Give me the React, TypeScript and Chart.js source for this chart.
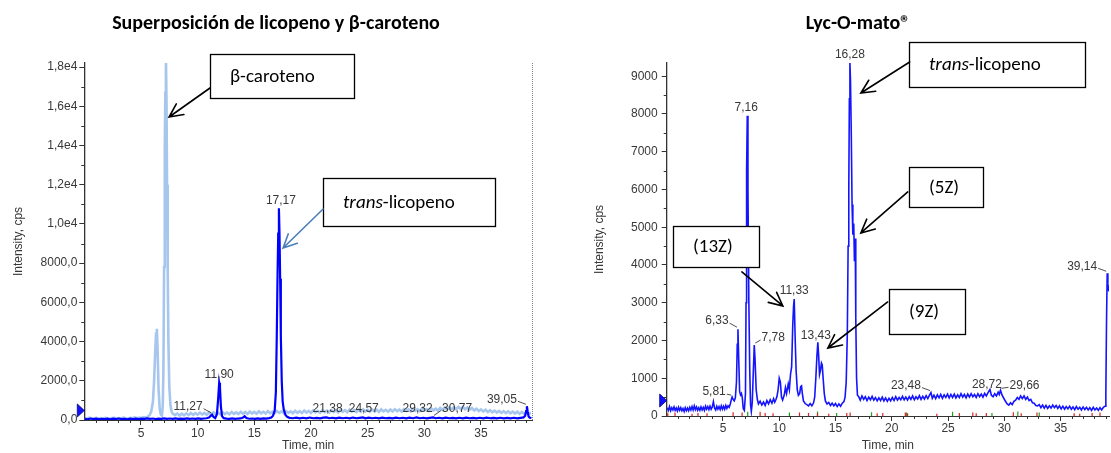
import { useEffect, useRef } from 'react';
import { Chart, registerables } from 'chart.js';

Chart.register(...registerables);
Chart.defaults.font.family = '"Liberation Sans", Arial, sans-serif';

// ---- Data: retention time (min), intensity (cps) ----

// β-caroteno standard (light trace, left panel)
const BETA_CAROTENE: [number, number][] = [
  [0.05, 95], [0.25, 70], [0.45, 115], [0.65, 80], [0.85, 60], [1.05, 105], [1.25, 75], [1.45, 100], [1.65, 65], [1.85, 110],
  [2.05, 80], [2.25, 60], [2.45, 95], [2.65, 115], [2.85, 70], [3.05, 100], [3.25, 80], [3.45, 125], [3.65, 90], [3.85, 70],
  [4.05, 115], [4.25, 85], [4.45, 130], [4.65, 95], [4.85, 125], [5.05, 100], [5.25, 145], [5.45, 120], [5.6, 170], [5.75, 240],
  [5.9, 420], [6.05, 900], [6.15, 1900], [6.25, 3400], [6.33, 4400], [6.4, 4650], [6.47, 3500], [6.55, 1600], [6.65, 600], [6.75, 280],
  [6.85, 230], [6.92, 700], [6.98, 2500], [7.04, 7800], [7.1, 13800], [7.15, 16700], [7.2, 18600], [7.25, 16400], [7.3, 12000], [7.36, 7600],
  [7.42, 4000], [7.5, 1700], [7.6, 750], [7.7, 430], [7.8, 330], [8.0, 250], [8.2, 330], [8.4, 230], [8.6, 320], [8.8, 240],
  [9.0, 340], [9.2, 250], [9.4, 360], [9.6, 260], [9.8, 350], [10.0, 270], [10.2, 370], [10.4, 280], [10.6, 360], [10.8, 270],
  [11.0, 380], [11.2, 290], [11.4, 390], [11.6, 280], [11.8, 370], [12.0, 290], [12.2, 400], [12.4, 300], [12.6, 380], [12.8, 290],
  [13.0, 410], [13.2, 310], [13.4, 390], [13.6, 300], [13.8, 420], [14.0, 320], [14.2, 410], [14.4, 310], [14.6, 430], [14.8, 330],
  [15.0, 410], [15.2, 320], [15.4, 440], [15.6, 340], [15.8, 420], [16.0, 330], [16.2, 450], [16.4, 340], [16.6, 430], [16.8, 350],
  [17.0, 460], [17.2, 360], [17.4, 440], [17.6, 340], [17.8, 460], [18.0, 360], [18.2, 440], [18.4, 350], [18.6, 470], [18.8, 370],
  [19.0, 450], [19.2, 360], [19.4, 480], [19.6, 380], [19.8, 460], [20.0, 360], [20.2, 490], [20.4, 390], [20.6, 470], [20.8, 370],
  [21.0, 500], [21.2, 400], [21.4, 480], [21.6, 380], [21.8, 510], [22.0, 410], [22.2, 490], [22.4, 390], [22.6, 520], [22.8, 420],
  [23.0, 500], [23.2, 400], [23.4, 530], [23.6, 430], [23.8, 510], [24.0, 410], [24.2, 520], [24.4, 420], [24.6, 540], [24.8, 440],
  [25.0, 520], [25.2, 420], [25.4, 530], [25.6, 430], [25.8, 520], [26.0, 410], [26.2, 540], [26.4, 440], [26.6, 520], [26.8, 420],
  [27.0, 530], [27.2, 430], [27.4, 550], [27.6, 450], [27.8, 530], [28.0, 430], [28.2, 560], [28.4, 460], [28.6, 540], [28.8, 440],
  [29.0, 570], [29.2, 470], [29.4, 550], [29.6, 450], [29.8, 580], [30.0, 480], [30.2, 560], [30.4, 460], [30.6, 590], [30.8, 490],
  [31.0, 580], [31.2, 480], [31.4, 620], [31.6, 510], [31.8, 630], [32.0, 530], [32.2, 650], [32.4, 540], [32.6, 660], [32.8, 550],
  [33.0, 670], [33.2, 560], [33.4, 660], [33.6, 550], [33.8, 640], [34.0, 520], [34.2, 610], [34.4, 490], [34.6, 580], [34.8, 460],
  [35.0, 540], [35.2, 430], [35.4, 520], [35.6, 410], [35.8, 500], [36.0, 390], [36.2, 480], [36.4, 380], [36.6, 460], [36.8, 360],
  [37.0, 450], [37.2, 350], [37.4, 440], [37.6, 340], [37.8, 430], [38.0, 330], [38.2, 420], [38.4, 320], [38.6, 410], [38.8, 310],
  [39.0, 400], [39.2, 320], [39.4, 370],
];

// Licopeno standard (dark trace, left panel)
const LYCOPENE_STD: [number, number][] = [
  [0.05, 60], [0.3, 40], [0.55, 75], [0.8, 45], [1.05, 65], [1.3, 35], [1.55, 60], [1.8, 45], [2.05, 70], [2.3, 40],
  [2.55, 65], [2.8, 50], [3.05, 75], [3.3, 45], [3.55, 60], [3.8, 40], [4.05, 70], [4.3, 50], [4.55, 65], [4.8, 45],
  [5.05, 70], [5.3, 55], [5.55, 80], [5.8, 60], [6.05, 75], [6.3, 50], [6.55, 70], [6.8, 55], [7.05, 80], [7.3, 60],
  [7.55, 75], [7.8, 55], [8.05, 80], [8.3, 60], [8.55, 70], [8.8, 55], [9.05, 80], [9.3, 60], [9.55, 75], [9.8, 55],
  [10.05, 80], [10.3, 60], [10.55, 75], [10.8, 90], [11.0, 130], [11.15, 210], [11.27, 270], [11.4, 160], [11.55, 95], [11.7, 300],
  [11.8, 1000], [11.9, 1900], [11.97, 1650], [12.05, 700], [12.15, 200], [12.3, 95], [12.55, 70], [12.8, 55], [13.05, 80], [13.3, 60],
  [13.55, 75], [13.8, 80], [14.0, 120], [14.15, 190], [14.3, 100], [14.55, 65], [14.8, 75], [15.05, 55], [15.3, 80], [15.55, 60],
  [15.8, 85], [16.05, 70], [16.3, 95], [16.5, 130], [16.65, 220], [16.8, 480], [16.9, 1400], [16.98, 4200], [17.05, 7400], [17.11, 9500],
  [17.17, 10800], [17.22, 9600], [17.28, 7200], [17.34, 4300], [17.42, 2000], [17.5, 950], [17.6, 520], [17.75, 260], [17.9, 160], [18.1, 110],
  [18.4, 90], [18.7, 120], [19.0, 80], [19.3, 115], [19.6, 85], [19.9, 125], [20.2, 90], [20.5, 110], [20.8, 80], [21.1, 120],
  [21.38, 130], [21.6, 90], [21.9, 115], [22.2, 80], [22.5, 120], [22.8, 90], [23.1, 115], [23.4, 85], [23.7, 125], [24.0, 90],
  [24.3, 110], [24.57, 130], [24.8, 85], [25.1, 120], [25.4, 90], [25.7, 115], [26.0, 80], [26.3, 120], [26.6, 90], [26.9, 110],
  [27.2, 85], [27.5, 120], [27.8, 90], [28.1, 115], [28.4, 80], [28.7, 120], [29.0, 90], [29.32, 135], [29.6, 90], [29.9, 115],
  [30.2, 85], [30.5, 110], [30.77, 130], [31.0, 90], [31.3, 115], [31.6, 80], [31.9, 120], [32.2, 90], [32.5, 110], [32.8, 80],
  [33.1, 115], [33.4, 85], [33.7, 120], [34.0, 90], [34.3, 110], [34.6, 80], [34.9, 115], [35.2, 85], [35.5, 120], [35.8, 90],
  [36.1, 110], [36.4, 80], [36.7, 115], [37.0, 85], [37.3, 110], [37.6, 80], [37.9, 115], [38.2, 85], [38.5, 110], [38.75, 130],
  [38.9, 220], [38.98, 450], [39.05, 700], [39.12, 420], [39.2, 180], [39.3, 120], [39.45, 100],
];

// Lyc-O-mato® extract (right panel)
const LYC_O_MATO: [number, number][] = [
  [0.05, 220], [0.15, 150], [0.25, 250], [0.35, 140], [0.45, 220], [0.55, 160], [0.65, 240], [0.75, 150], [0.85, 210], [0.95, 130],
  [1.05, 230], [1.15, 150], [1.25, 220], [1.35, 140], [1.45, 200], [1.55, 120], [1.65, 220], [1.75, 140], [1.85, 210], [1.95, 140],
  [2.05, 230], [2.15, 160], [2.25, 250], [2.35, 160], [2.45, 270], [2.55, 170], [2.65, 240], [2.75, 150], [2.85, 220], [2.95, 150],
  [3.05, 240], [3.15, 160], [3.25, 230], [3.35, 150], [3.45, 260], [3.55, 180], [3.65, 250], [3.75, 170], [3.85, 260], [3.95, 180],
  [4.05, 240], [4.15, 380], [4.25, 210], [4.35, 160], [4.45, 260], [4.55, 180], [4.65, 250], [4.75, 170], [4.85, 270], [4.95, 180],
  [5.05, 260], [5.15, 180], [5.25, 280], [5.35, 200], [5.45, 270], [5.55, 230], [5.65, 320], [5.73, 420], [5.81, 500], [5.9, 440],
  [6.0, 400], [6.1, 480], [6.2, 900], [6.27, 1900], [6.33, 2300], [6.4, 1500], [6.48, 650], [6.56, 560], [6.64, 600], [6.72, 480],
  [6.8, 200], [6.9, 150], [7.0, 600], [7.05, 3000], [7.1, 6500], [7.16, 7950], [7.22, 6000], [7.3, 3000], [7.38, 1200], [7.45, 300],
  [7.52, 120], [7.6, 350], [7.7, 1200], [7.78, 1880], [7.85, 1500], [7.95, 700], [8.05, 450], [8.15, 320], [8.3, 390], [8.45, 290],
  [8.6, 370], [8.75, 280], [8.9, 410], [9.05, 320], [9.2, 430], [9.35, 340], [9.5, 460], [9.6, 370], [9.7, 430], [9.8, 520],
  [9.9, 700], [10.0, 1000], [10.1, 900], [10.2, 500], [10.3, 420], [10.45, 560], [10.55, 750], [10.65, 600], [10.8, 850], [10.9, 700],
  [11.0, 1100], [11.1, 1300], [11.2, 2400], [11.27, 2900], [11.33, 3100], [11.42, 2000], [11.5, 1200], [11.6, 700], [11.7, 550], [11.82, 600],
  [11.9, 780], [11.98, 800], [12.05, 600], [12.15, 400], [12.3, 330], [12.45, 300], [12.6, 270], [12.75, 330], [12.9, 270], [13.05, 350],
  [13.15, 500], [13.25, 1000], [13.35, 1600], [13.43, 1950], [13.5, 1600], [13.58, 1100], [13.66, 1200], [13.75, 1400], [13.82, 1350], [13.9, 1000],
  [14.0, 600], [14.1, 400], [14.25, 320], [14.4, 360], [14.55, 280], [14.7, 340], [14.85, 270], [15.0, 330], [15.15, 250], [15.3, 320],
  [15.45, 260], [15.6, 340], [15.75, 380], [15.85, 500], [15.95, 900], [16.05, 2200], [16.12, 4500], [16.18, 6000], [16.23, 8400], [16.28, 9350],
  [16.33, 8900], [16.4, 7500], [16.47, 5600], [16.54, 4800], [16.62, 5100], [16.68, 4100], [16.75, 4700], [16.8, 2600], [16.87, 1000], [16.95, 550],
  [17.05, 520], [17.2, 420], [17.35, 530], [17.5, 440], [17.65, 510], [17.8, 410], [17.95, 500], [18.1, 430], [18.25, 520], [18.4, 420],
  [18.55, 490], [18.7, 400], [18.85, 480], [19.0, 410], [19.15, 500], [19.3, 400], [19.45, 480], [19.6, 390], [19.75, 470], [19.9, 400],
  [20.05, 490], [20.2, 410], [20.35, 510], [20.5, 420], [20.65, 490], [20.8, 430], [20.95, 520], [21.1, 430], [21.25, 500], [21.4, 420],
  [21.55, 510], [21.7, 440], [21.85, 530], [22.0, 430], [22.15, 510], [22.3, 450], [22.45, 540], [22.6, 440], [22.75, 520], [22.9, 450],
  [23.05, 540], [23.2, 460], [23.35, 550], [23.48, 620], [23.6, 470], [23.75, 550], [23.9, 460], [24.05, 560], [24.2, 480], [24.35, 570],
  [24.5, 470], [24.65, 560], [24.8, 490], [24.95, 580], [25.1, 480], [25.25, 570], [25.4, 490], [25.55, 580], [25.7, 480], [25.85, 560],
  [26.0, 490], [26.15, 590], [26.3, 500], [26.45, 570], [26.6, 480], [26.75, 580], [26.9, 500], [27.05, 590], [27.2, 510], [27.35, 570],
  [27.5, 490], [27.65, 590], [27.8, 510], [27.95, 580], [28.1, 500], [28.25, 600], [28.4, 530], [28.55, 620], [28.72, 700], [28.85, 550],
  [29.0, 510], [29.15, 590], [29.3, 530], [29.45, 630], [29.55, 570], [29.66, 680], [29.8, 550], [29.95, 470], [30.1, 390], [30.25, 320],
  [30.4, 290], [30.55, 350], [30.7, 300], [30.85, 390], [31.0, 420], [31.15, 490], [31.3, 440], [31.45, 530], [31.6, 460], [31.75, 530],
  [31.9, 440], [32.05, 500], [32.2, 410], [32.35, 440], [32.5, 350], [32.65, 340], [32.8, 280], [32.95, 270], [33.1, 300], [33.25, 220],
  [33.4, 290], [33.55, 210], [33.7, 280], [33.85, 200], [34.0, 270], [34.15, 210], [34.3, 290], [34.45, 220], [34.6, 280], [34.75, 200],
  [34.9, 270], [35.05, 190], [35.2, 260], [35.35, 180], [35.5, 250], [35.65, 190], [35.8, 260], [35.95, 180], [36.1, 240], [36.25, 170],
  [36.4, 250], [36.55, 180], [36.7, 230], [36.85, 160], [37.0, 240], [37.15, 170], [37.3, 230], [37.45, 160], [37.6, 220], [37.75, 150],
  [37.9, 230], [38.05, 160], [38.2, 210], [38.35, 150], [38.5, 220], [38.65, 160], [38.8, 230], [38.95, 260], [39.02, 600], [39.08, 2500],
  [39.14, 3780], [39.2, 3500], [39.28, 3300],
];

// Minor detector channels drawn as short marks along the baseline (right panel)
const RED_MARK_TIMES = [0.1, 0.74, 2.25, 2.78, 3.58, 5.9, 6.7, 8.3, 8.75, 9.45, 11.8, 12.6, 13.4, 14.4, 16.0, 16.3, 18.7, 19.2, 21.2, 21.4, 24.0, 26.0, 27.2, 27.5, 28.4, 30.8, 31.5, 32.9, 36.2, 36.7, 37.8, 38.5];
const RED_MARK_HEIGHTS = [70, 90, 60, 80, 70, 100, 90, 110, 80, 70, 90, 80, 70, 60, 80, 90, 70, 80, 90, 70, 60, 80, 90, 70, 80, 100, 70, 90, 70, 60, 80, 90];
const GREEN_MARK_TIMES = [7.2, 10.9, 13.4, 15.1, 18.2, 21.3, 25.4, 28.9, 31.2, 33.1];
const GREEN_MARK_HEIGHTS = [110, 90, 120, 80, 100, 90, 110, 80, 120, 90];

// Labelled peaks (retention times)
const LEFT_PEAKS = [11.27, 11.9, 17.17, 21.38, 24.57, 29.32, 30.77, 39.05];
const RIGHT_PEAKS = [5.81, 6.33, 7.16, 7.78, 11.33, 13.43, 16.28, 23.48, 28.72, 29.66, 39.14];

// Axis ticks
const X_TICKS = [5, 10, 15, 20, 25, 30, 35];
const LEFT_Y_TICKS = [0, 2000, 4000, 6000, 8000, 10000, 12000, 14000, 16000, 18000];
const LEFT_Y_LABELS = ['0,0', '2000,0', '4000,0', '6000,0', '8000,0', '1,0e4', '1,2e4', '1,4e4', '1,6e4', '1,8e4'];
const RIGHT_Y_TICKS = [0, 1000, 2000, 3000, 4000, 5000, 6000, 7000, 8000, 9000];
const RIGHT_Y_LABELS = ['0', '1000', '2000', '3000', '4000', '5000', '6000', '7000', '8000', '9000'];

// ---- Styling ----
const AXIS = '#333333';
const TEXT = '#383838';
const CALLOUT_FONT = '"Carlito", "Lato", "Open Sans", sans-serif';

const toPoints = (pts: [number, number][]) => pts.map(([x, y]) => ({ x, y }));
const toMarks = (times: number[], heights: number[]) => {
  const out: { x: number; y: number | null }[] = [];
  times.forEach((t, i) => {
    out.push({ x: t, y: 0 }, { x: t, y: heights[i] }, { x: t + 0.01, y: null });
  });
  return out;
};
const fmtTime = (t: number) => t.toFixed(2).replace('.', ',');

type Callout = {
  parts: [string, boolean][];
  box: [number, number];
  w: number;
  h: number;
  tail: [number, number];
  tip: [number, number];
  color: string;
};
type LabelPos = { dx: number; dy: number; leader?: boolean };

type Panel = {
  title: string;
  titleX: number;
  xMax: number;
  yMax: number;
  yMinor: number;
  yMajor: number;
  yTicks: number[];
  yLabels: string[];
  yAxisWidth: number;
  xAxisHeight: number;
  padRight: number;
  yTickPad: number;
  xTickPad: number;
  yTitlePad: number;
  series: { points: any[]; color: string; width: number }[];
  labelSeries: [number, number][];
  peaks: number[];
  labelPos: LabelPos[];
  callouts: Callout[];
  markerLevel: number;
  dottedRight: boolean;
};

function drawArrow(ctx: CanvasRenderingContext2D, x1: number, y1: number, x2: number, y2: number, color: string) {
  const ang = Math.atan2(y2 - y1, x2 - x1);
  const len = 15;
  const spread = 0.45;
  ctx.strokeStyle = color;
  ctx.lineWidth = 1.6;
  ctx.lineCap = 'round';
  ctx.beginPath();
  ctx.moveTo(x1, y1);
  ctx.lineTo(x2, y2);
  ctx.moveTo(x2 - len * Math.cos(ang - spread), y2 - len * Math.sin(ang - spread));
  ctx.lineTo(x2, y2);
  ctx.lineTo(x2 - len * Math.cos(ang + spread), y2 - len * Math.sin(ang + spread));
  ctx.stroke();
}

function makeDecor(p: Panel) {
  return {
    id: 'decor',
    afterDatasetsDraw(chart: any) {
      const { ctx, chartArea: a } = chart;
      const xs = chart.scales.x;
      const ys = chart.scales.y;
      ctx.save();

      // minor ticks
      ctx.strokeStyle = AXIS;
      ctx.lineWidth = 1;
      ctx.beginPath();
      for (let m = 1; m < p.xMax; m++) {
        if (m % 5 === 0) continue;
        const px = Math.round(xs.getPixelForValue(m)) + 0.5;
        ctx.moveTo(px, a.bottom);
        ctx.lineTo(px, a.bottom + 3);
      }
      for (let v = p.yMinor; v < p.yMax; v += p.yMinor) {
        if (v % p.yMajor === 0) continue;
        const py = Math.round(ys.getPixelForValue(v)) + 0.5;
        ctx.moveTo(a.left - 3, py);
        ctx.lineTo(a.left, py);
      }
      ctx.stroke();

      // right-hand run boundary
      if (p.dottedRight) {
        ctx.save();
        ctx.strokeStyle = '#808080';
        ctx.setLineDash([1, 1]);
        ctx.beginPath();
        ctx.moveTo(Math.round(a.right) + 0.5, a.top);
        ctx.lineTo(Math.round(a.right) + 0.5, a.bottom);
        ctx.stroke();
        ctx.restore();
      }

      // threshold marker on the intensity axis
      const my = ys.getPixelForValue(p.markerLevel);
      ctx.fillStyle = '#1010ff';
      ctx.strokeStyle = '#000080';
      ctx.lineWidth = 0.8;
      ctx.beginPath();
      ctx.moveTo(a.left - 7, my - 6.5);
      ctx.lineTo(a.left, my);
      ctx.lineTo(a.left - 7, my + 6.5);
      ctx.closePath();
      ctx.fill();
      ctx.stroke();

      // chart title
      ctx.fillStyle = '#000';
      ctx.font = `bold 20px ${CALLOUT_FONT}`;
      ctx.textAlign = 'center';
      ctx.textBaseline = 'middle';
      ctx.fillText(p.title, p.titleX, 24);

      // peak retention-time labels
      ctx.font = '12px "Liberation Sans", Arial, sans-serif';
      ctx.fillStyle = TEXT;
      ctx.textAlign = 'center';
      ctx.textBaseline = 'middle';
      p.peaks.forEach((t, i) => {
        let best = p.labelSeries[0];
        for (const pt of p.labelSeries) if (Math.abs(pt[0] - t) < Math.abs(best[0] - t)) best = pt;
        const px = xs.getPixelForValue(t);
        const py = ys.getPixelForValue(best[1]);
        const L = p.labelPos[i];
        const cx = px + L.dx;
        const cy = py + L.dy;
        const text = fmtTime(t);
        ctx.fillText(text, cx, cy);
        if (L.leader) {
          const w = ctx.measureText(text).width;
          ctx.strokeStyle = '#222';
          ctx.lineWidth = 0.8;
          ctx.beginPath();
          if (L.dx < 0) {
            ctx.moveTo(cx + w / 2 + 1, cy + 2);
            ctx.lineTo(px - 1, py - 2);
          } else {
            ctx.moveTo(cx - w / 2 - 1, cy + 2);
            ctx.lineTo(px + 1, py - 2);
          }
          ctx.stroke();
        }
      });

      // callout boxes with arrows
      for (const c of p.callouts) {
        const bx = Math.round(xs.getPixelForValue(c.box[0]));
        const by = Math.round(ys.getPixelForValue(c.box[1]));
        ctx.fillStyle = '#fff';
        ctx.fillRect(bx, by, c.w, c.h);
        ctx.strokeStyle = '#000';
        ctx.lineWidth = 1.3;
        ctx.strokeRect(bx + 0.5, by + 0.5, c.w, c.h);
        let tx = bx + 20;
        ctx.fillStyle = '#000';
        ctx.textAlign = 'left';
        ctx.textBaseline = 'middle';
        for (const [str, italic] of c.parts) {
          ctx.font = `${italic ? 'italic ' : ''}19px ${CALLOUT_FONT}`;
          ctx.fillText(str, tx, by + c.h / 2 + 1);
          tx += ctx.measureText(str).width;
        }
        drawArrow(
          ctx,
          xs.getPixelForValue(c.tail[0]), ys.getPixelForValue(c.tail[1]),
          xs.getPixelForValue(c.tip[0]), ys.getPixelForValue(c.tip[1]),
          c.color,
        );
      }
      ctx.restore();
    },
  };
}

function buildConfig(p: Panel): any {
  const tickFont = { size: 12, family: '"Liberation Sans", Arial, sans-serif' };
  return {
    type: 'line',
    data: {
      datasets: p.series.map((s) => ({
        data: s.points,
        borderColor: s.color,
        borderWidth: s.width,
        pointRadius: 0,
        tension: 0,
        fill: false,
        spanGaps: false,
      })),
    },
    options: {
      responsive: true,
      maintainAspectRatio: false,
      animation: false,
      events: [],
      layout: { padding: { top: 63, right: p.padRight, left: 0, bottom: 0 } },
      plugins: { legend: { display: false }, tooltip: { enabled: false }, title: { display: false } },
      scales: {
        x: {
          type: 'linear',
          min: 0,
          max: p.xMax,
          afterFit: (s: any) => { s.height = p.xAxisHeight; },
          afterBuildTicks: (s: any) => { s.ticks = X_TICKS.map((v) => ({ value: v })); },
          ticks: { font: tickFont, color: TEXT, padding: p.xTickPad, maxRotation: 0, autoSkip: false, callback: (v: number) => String(v) },
          grid: { display: true, drawOnChartArea: false, drawTicks: true, tickLength: 5, tickColor: AXIS },
          border: { display: true, color: AXIS, width: 1 },
          title: { display: true, text: 'Time, min', color: TEXT, font: tickFont, padding: { top: 0, bottom: 0 } },
        },
        y: {
          type: 'linear',
          min: 0,
          max: p.yMax,
          afterFit: (s: any) => { s.width = p.yAxisWidth; },
          afterBuildTicks: (s: any) => { s.ticks = p.yTicks.map((v) => ({ value: v })); },
          ticks: { font: tickFont, color: TEXT, padding: p.yTickPad, autoSkip: false, callback: (_v: number, i: number) => p.yLabels[i] },
          grid: { display: true, drawOnChartArea: false, drawTicks: true, tickLength: 5, tickColor: AXIS },
          border: { display: true, color: AXIS, width: 1.3 },
          title: { display: true, text: 'Intensity, cps', color: TEXT, font: tickFont, padding: { top: p.yTitlePad, bottom: 0 } },
        },
      },
    },
    plugins: [makeDecor(p)],
  };
}

const leftPanel: Panel = {
  title: 'Superposición de licopeno y β-caroteno',
  titleX: 276,
  xMax: 39.5,
  yMax: 18205,
  yMinor: 1000,
  yMajor: 2000,
  yTicks: LEFT_Y_TICKS,
  yLabels: LEFT_Y_LABELS,
  yAxisWidth: 84.3,
  xAxisHeight: 33,
  padRight: 28,
  yTickPad: 2,
  xTickPad: 1,
  yTitlePad: 11,
  series: [
    { points: toPoints(LYCOPENE_STD), color: '#0000ff', width: 2.2 },
    { points: toPoints(BETA_CAROTENE), color: '#a6c6ee', width: 2.6 },
  ],
  labelSeries: LYCOPENE_STD,
  peaks: LEFT_PEAKS,
  labelPos: [
    { dx: -24, dy: -8, leader: true },
    { dx: 0, dy: -8 },
    { dx: 2, dy: -8 },
    { dx: 1, dy: -9 },
    { dx: 1, dy: -9 },
    { dx: 1, dy: -9 },
    { dx: 24, dy: -9, leader: true },
    { dx: -25, dy: -7, leader: true },
  ],
  callouts: [
    { parts: [['β-caroteno', false]], box: [11.09, 18664], w: 144, h: 44, tail: [11.09, 16930], tip: [7.48, 15451], color: '#000' },
    { parts: [['trans', true], ['-licopeno', false]], box: [21.07, 12341], w: 172, h: 48, tail: [21.07, 10760], tip: [17.54, 8771], color: '#4a7ebb' },
  ],
  markerLevel: 485,
  dottedRight: true,
};

const rightPanel: Panel = {
  title: 'Lyc-O-mato®',
  titleX: 298,
  xMax: 39.3,
  yMax: 9350,
  yMinor: 500,
  yMajor: 1000,
  yTicks: RIGHT_Y_TICKS,
  yLabels: RIGHT_Y_LABELS,
  yAxisWidth: 106.7,
  xAxisHeight: 37,
  padRight: 2,
  yTickPad: 4,
  xTickPad: 0,
  yTitlePad: 32,
  series: [
    { points: toPoints(LYC_O_MATO), color: '#1414ff', width: 1.6 },
    { points: toMarks(RED_MARK_TIMES, RED_MARK_HEIGHTS), color: '#e02020', width: 1.2 },
    { points: toMarks(GREEN_MARK_TIMES, GREEN_MARK_HEIGHTS), color: '#20a020', width: 1.2 },
  ],
  labelSeries: LYC_O_MATO,
  peaks: RIGHT_PEAKS,
  labelPos: [
    { dx: -18, dy: -5, leader: true },
    { dx: -21, dy: -8, leader: true },
    { dx: -1, dy: -8 },
    { dx: 19, dy: -7, leader: true },
    { dx: 0, dy: -8 },
    { dx: -2, dy: -7 },
    { dx: 0, dy: -8 },
    { dx: -25, dy: -7, leader: true },
    { dx: -3, dy: -5 },
    { dx: 24, dy: -5, leader: true },
    { dx: -25, dy: -7, leader: true },
  ],
  callouts: [
    { parts: [['trans', true], ['-licopeno', false]], box: [21.5, 9907], w: 176, h: 45, tail: [21.59, 9377], tip: [17.25, 8556], color: '#000' },
    { parts: [['(5Z)', false]], box: [21.5, 6596], w: 74, h: 40, tail: [21.42, 5934], tip: [17.25, 4848], color: '#000' },
    { parts: [['(9Z)', false]], box: [19.73, 3364], w: 76, h: 45, tail: [19.64, 3020], tip: [14.32, 1801], color: '#000' },
    { parts: [['(13Z)', false]], box: [0.56, 5033], w: 86, h: 41, tail: [6.68, 3815], tip: [10.32, 2914], color: '#000' },
  ],
  markerLevel: 410,
  dottedRight: false,
};

export default function App() {
  const leftRef = useRef<HTMLCanvasElement>(null);
  const rightRef = useRef<HTMLCanvasElement>(null);

  useEffect(() => {
    const left = new Chart(leftRef.current!, buildConfig(leftPanel));
    const right = new Chart(rightRef.current!, buildConfig(rightPanel));
    return () => {
      left.destroy();
      right.destroy();
    };
  }, []);

  return (
    <div style={{ position: 'absolute', left: 0, top: 0, width: 1111, height: 453, background: '#fff', overflow: 'hidden' }}>
      <div style={{ position: 'absolute', left: 0, top: 0, width: 560, height: 453 }}>
        <canvas ref={leftRef} />
      </div>
      <div style={{ position: 'absolute', left: 560, top: 0, width: 551, height: 453 }}>
        <canvas ref={rightRef} />
      </div>
    </div>
  );
}
